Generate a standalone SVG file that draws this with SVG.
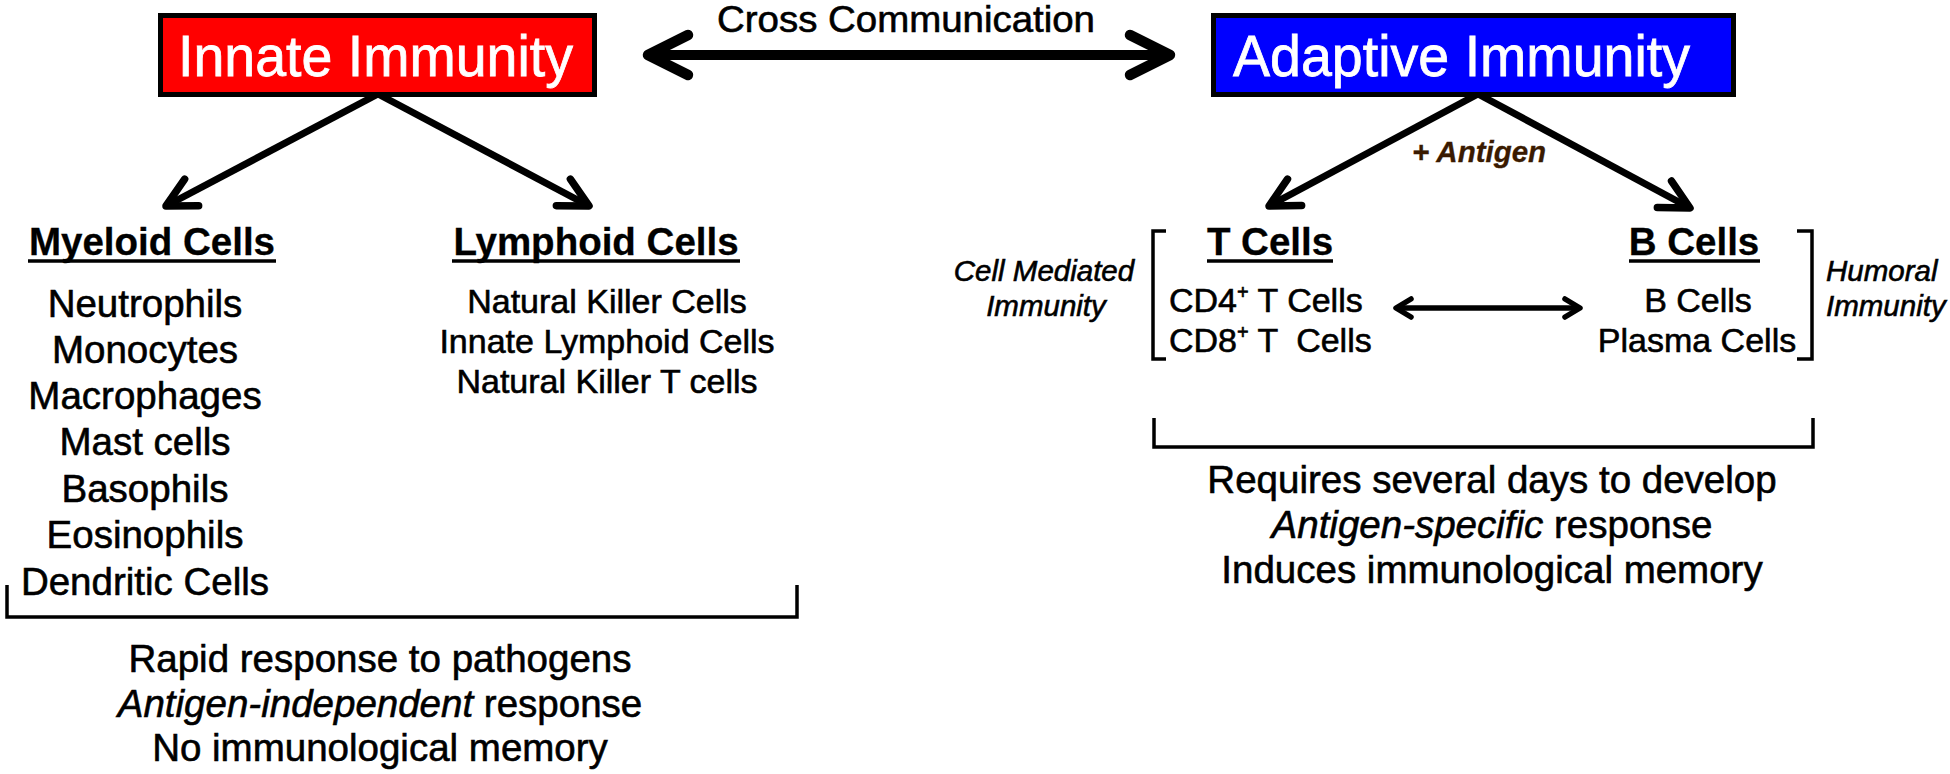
<svg xmlns="http://www.w3.org/2000/svg" width="1950" height="774" viewBox="0 0 1950 774">
<style>
text{font-family:"Liberation Sans",Arial,sans-serif;fill:#000;stroke:#000;stroke-width:0.6}
.box{stroke:#000;stroke-width:5}
.title{font-size:58px;fill:#fff;stroke:#fff;stroke-width:0.8}
.head{font-size:38.5px;font-weight:bold;text-anchor:middle;stroke-width:0.3}
.ul{stroke:#000;stroke-width:3.5}
.big{font-size:38.5px;text-anchor:middle}
.mid{font-size:34px;text-anchor:middle}
.ital{font-size:29.5px;font-style:italic}
.conn{fill:none;stroke:#000;stroke-width:7}
.brk{fill:none;stroke:#000;stroke-width:3.5}
</style>
<defs>
<marker id="ah" markerUnits="userSpaceOnUse" orient="auto-start-reverse" overflow="visible" markerWidth="10" markerHeight="10" refX="0" refY="0">
<path d="M-29,-15 L0,0 L-29,15" fill="none" stroke="#000" stroke-width="7.5" stroke-linecap="round" stroke-linejoin="round"/>
</marker>
<marker id="ahBig" markerUnits="userSpaceOnUse" orient="auto-start-reverse" overflow="visible" markerWidth="10" markerHeight="10" refX="0" refY="0">
<path d="M-40,-20 L0,0 L-40,20" fill="none" stroke="#000" stroke-width="10.5" stroke-linecap="round" stroke-linejoin="round"/>
</marker>
<marker id="ahSm" markerUnits="userSpaceOnUse" orient="auto-start-reverse" overflow="visible" markerWidth="10" markerHeight="10" refX="0" refY="0">
<path d="M-15,-9 L0,0 L-15,9" fill="none" stroke="#000" stroke-width="5.5" stroke-linecap="round" stroke-linejoin="round"/>
</marker>
</defs>
<rect width="1950" height="774" fill="#fff"/>

<g id="connectors">
<path class="conn" d="M378,94 L166,206" marker-end="url(#ah)"/>
<path class="conn" d="M378,94 L589,206" marker-end="url(#ah)"/>
<path class="conn" d="M1478,94 L1269,206" marker-end="url(#ah)"/>
<path class="conn" d="M1478,94 L1690,208" marker-end="url(#ah)"/>
<path fill="none" stroke="#000" stroke-width="10" d="M648,55 H1170" marker-start="url(#ahBig)" marker-end="url(#ahBig)"/>
<path fill="none" stroke="#000" stroke-width="5.5" d="M1396,308 H1580" marker-start="url(#ahSm)" marker-end="url(#ahSm)"/>
</g>

<g id="cross-label">
<text x="717" y="32" font-size="37" textLength="378" lengthAdjust="spacingAndGlyphs">Cross Communication</text>
</g>

<g id="innate">
<rect class="box" x="160.5" y="15.5" width="434" height="79" fill="#ff0000"/>
<text class="title" x="178" y="76" textLength="395" lengthAdjust="spacingAndGlyphs">Innate Immunity</text>
</g>

<g id="adaptive">
<rect class="box" x="1213.5" y="15.5" width="520" height="79" fill="#0000ff"/>
<text class="title" x="1233" y="76" textLength="457" lengthAdjust="spacingAndGlyphs">Adaptive Immunity</text>
</g>

<g id="antigen-label">
<text x="1412" y="162" font-size="29.5" font-weight="bold" font-style="italic" style="fill:#3a1a00;stroke:#3a1a00;stroke-width:0.3">+ Antigen</text>
</g>

<g id="myeloid">
<text class="head" x="152" y="255">Myeloid Cells</text>
<line class="ul" x1="28" y1="261" x2="276" y2="261"/>
<text class="big" x="145" y="317">Neutrophils</text>
<text class="big" x="145" y="363">Monocytes</text>
<text class="big" x="145" y="409">Macrophages</text>
<text class="big" x="145" y="455">Mast cells</text>
<text class="big" x="145" y="502">Basophils</text>
<text class="big" x="145" y="548">Eosinophils</text>
<text class="big" x="145" y="595">Dendritic Cells</text>
</g>

<g id="lymphoid">
<text class="head" x="596" y="255">Lymphoid Cells</text>
<line class="ul" x1="452" y1="261" x2="740" y2="261"/>
<text class="mid" x="607" y="313">Natural Killer Cells</text>
<text class="mid" x="607" y="353">Innate Lymphoid Cells</text>
<text class="mid" x="607" y="393">Natural Killer T cells</text>
</g>

<g id="innate-summary">
<path class="brk" d="M7,585 V617 H797 V585"/>
<text class="big" x="380" y="672">Rapid response to pathogens</text>
<text class="big" x="380" y="717"><tspan font-style="italic">Antigen-independent</tspan> response</text>
<text class="big" x="380" y="761">No immunological memory</text>
</g>

<g id="tcells">
<text class="head" x="1270" y="255">T Cells</text>
<line class="ul" x1="1207" y1="261" x2="1333" y2="261"/>
<path class="brk" d="M1166,231 H1153 V359 H1166" stroke-width="4"/>
<text class="ital" x="1044" y="281" text-anchor="middle">Cell Mediated</text>
<text class="ital" x="1046" y="316" text-anchor="middle">Immunity</text>
<text x="1169" y="312" font-size="34">CD4<tspan font-size="20" dy="-13">+</tspan><tspan dy="13"> T Cells</tspan></text>
<text x="1169" y="352" font-size="34">CD8<tspan font-size="20" dy="-13">+</tspan><tspan dy="13"> T </tspan><tspan dx="9"> Cells</tspan></text>
</g>

<g id="bcells">
<text class="head" x="1694" y="255">B Cells</text>
<line class="ul" x1="1629" y1="261" x2="1760" y2="261"/>
<path class="brk" d="M1797,231 H1812 V359 H1797" stroke-width="4"/>
<text class="ital" x="1826" y="281">Humoral</text>
<text class="ital" x="1826" y="316">Immunity</text>
<text class="mid" x="1698" y="312">B Cells</text>
<text class="mid" x="1697" y="352">Plasma Cells</text>
</g>

<g id="adaptive-summary">
<path class="brk" d="M1154,418 V447 H1813 V418"/>
<text class="big" x="1492" y="493">Requires several days to develop</text>
<text class="big" x="1492" y="538"><tspan font-style="italic">Antigen-specific</tspan> response</text>
<text class="big" x="1492" y="583">Induces immunological memory</text>
</g>
</svg>
